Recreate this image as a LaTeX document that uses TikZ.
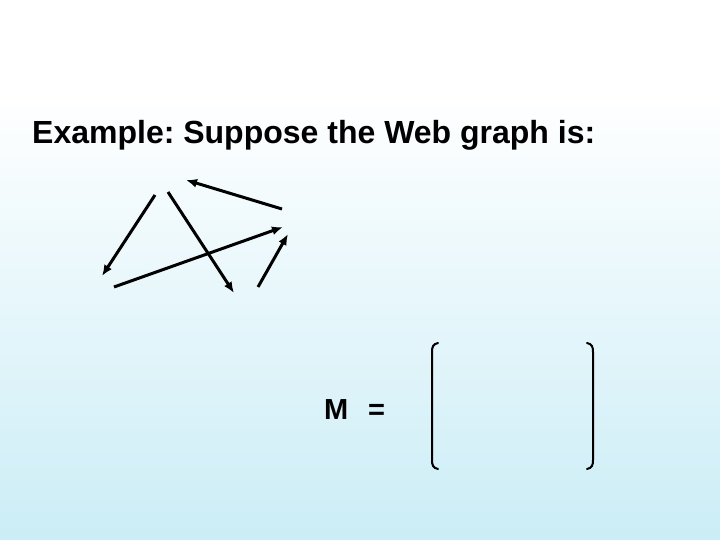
\documentclass[tikz,border=0pt]{standalone}
\usepackage{fontspec}
\setmainfont{Liberation Sans}
\usetikzlibrary{arrows.meta}
\definecolor{bgblue}{HTML}{CBEDF6}
\tikzset{
  edge/.style={line width=3pt, -{Latex[length=11pt,width=9pt]}},
  brack/.style={line width=2pt, line cap=round},
  title/.style={font=\bfseries\fontsize{32}{36}\selectfont, anchor=base west, inner sep=0pt},
  mtext/.style={font=\bfseries\fontsize{29}{34}\selectfont, anchor=base west, inner sep=0pt},
}
\begin{document}
\frenchspacing
\begin{tikzpicture}[x=1pt,y=-1pt]
\useasboundingbox (0,0) rectangle (720,540);
\shade[top color=white, bottom color=bgblue] (0,95) rectangle (720,540);
\fill[white] (0,0) rectangle (720,95.5);
\node[title] (t) at (32,144) {Example: Suppose the Web graph is:};
% graph
\coordinate (a1) at (155,195); \coordinate (a2) at (102,276);
\coordinate (b1) at (168,192); \coordinate (b2) at (234,293);
\coordinate (c1) at (282,209); \coordinate (c2) at (186,180);
\coordinate (d1) at (114,287); \coordinate (d2) at (283,227);
\coordinate (e1) at (258,287); \coordinate (e2) at (288,234);
\draw[edge] (a1) -- (a2);
\draw[edge] (b1) -- (b2);
\draw[edge] (c1) -- (c2);
\draw[edge] (d1) -- (d2);
\draw[edge] (e1) -- (e2);
% matrix
\node[mtext] (m) at (324,419) {M};
\node[mtext] (eq) at (368,419) {=};
\draw[brack] (438,343) .. controls (433,344) and (432,347) .. (432,352) -- (432,460) .. controls (432,465) and (433,468) .. (438,469);
\draw[brack] (587,343) .. controls (592,344) and (593,347) .. (593,352) -- (593,460) .. controls (593,465) and (592,468) .. (587,469);
\end{tikzpicture}
\end{document}
